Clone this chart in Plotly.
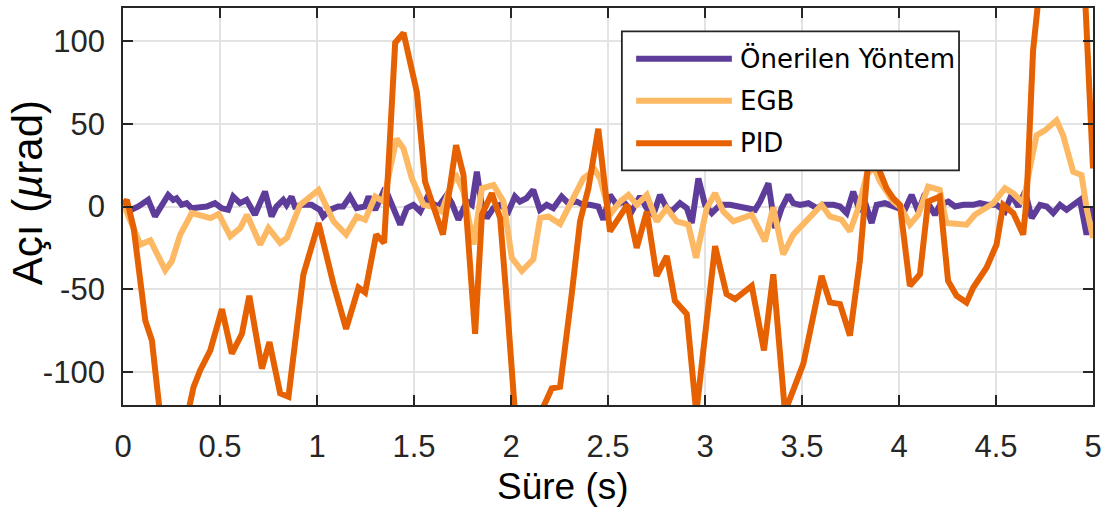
import plotly.graph_objects as go

# ---------------- data ----------------
t_prop = [0.0, 0.044, 0.079, 0.130, 0.165, 0.199, 0.233, 0.259, 0.276, 0.302, 0.328, 0.353, 0.397, 0.431,
          0.474, 0.508, 0.542, 0.568, 0.603, 0.637, 0.680, 0.706, 0.732, 0.766, 0.791, 0.826, 0.843, 0.869,
          0.886, 0.929, 0.972, 1.015, 1.032, 1.066, 1.109, 1.135, 1.170, 1.204, 1.247, 1.266, 1.300, 1.351,
          1.386, 1.429, 1.463, 1.497, 1.532, 1.566, 1.592, 1.626, 1.669, 1.695, 1.729, 1.772, 1.798, 1.824,
          1.849, 1.875, 1.909, 1.944, 1.987, 2.020, 2.046, 2.080, 2.115, 2.149, 2.184, 2.218, 2.261, 2.295,
          2.338, 2.373, 2.407, 2.450, 2.476, 2.510, 2.545, 2.579, 2.622, 2.665, 2.699, 2.734, 2.768, 2.803,
          2.828, 2.871, 2.906, 2.932, 2.966, 3.000, 3.035, 3.078, 3.129, 3.181, 3.224, 3.258, 3.284, 3.327,
          3.361, 3.395, 3.430, 3.455, 3.490, 3.533, 3.576, 3.610, 3.662, 3.696, 3.730, 3.764, 3.798, 3.824,
          3.859, 3.885, 3.927, 3.962, 3.996, 4.030, 4.065, 4.099, 4.125, 4.160, 4.185, 4.211, 4.254, 4.289,
          4.332, 4.383, 4.417, 4.460, 4.503, 4.546, 4.580, 4.615, 4.650, 4.684, 4.727, 4.761, 4.795, 4.830,
          4.864, 4.898, 4.933, 4.967, 5.0]
v_prop = [0, -2, 0, 4, -6, 1, 7, 4, 5, 1, 2, -1, 0, 0,
          2, -1, -2, 6, 2, 4, -5, 2, 9, -6, 0, 4, 1, 6,
          0, 1, 1, -2, -6, -2, 0, 0, 6, -1, 0, 6, -2, 11,
          1, -11, -1, 1, -3, 5, 2, 0, 7, 2, -8, 3, 1, 21,
          1, -7, -1, 1, -3, 6, 3, 5, 10, -2, 1, -1, 6, 2,
          3, 1, 1, 0, -8, 7, 1, 3, -3, 6, -1, -5, 7, -1,
          -3, 2, -1, -10, 17, 1, -4, 1, 1, 0, -1, -2, 3, 14,
          -13, -1, 7, 2, 1, 2, -1, 1, 1, 0, -4, 9, -3, 3,
          -10, 1, 2, 0, -1, -2, 7, -3, 5, 0, -5, 1, 3, 0,
          1, 1, 2, 1, 1, -3, 7, 0, 9, -7, 1, 0, -4, 1,
          -2, 1, 4, -17, 0]

t_egb = [0.0, 0.055, 0.089, 0.141, 0.218, 0.252, 0.295, 0.355, 0.450, 0.493, 0.553, 0.604, 0.639, 0.707,
         0.750, 0.810, 0.845, 0.913, 1.008, 1.085, 1.150, 1.205, 1.248, 1.300, 1.343, 1.377, 1.410, 1.446,
         1.489, 1.549, 1.592, 1.643, 1.712, 1.755, 1.807, 1.850, 1.910, 1.961, 2.004, 2.056, 2.115, 2.150,
         2.193, 2.253, 2.322, 2.373, 2.433, 2.459, 2.510, 2.562, 2.605, 2.648, 2.700, 2.751, 2.803, 2.854,
         2.914, 2.954, 3.009, 3.052, 3.094, 3.146, 3.241, 3.309, 3.352, 3.403, 3.455, 3.524, 3.601, 3.644,
         3.704, 3.747, 3.790, 3.833, 3.870, 3.902, 3.944, 3.970, 4.013, 4.056, 4.099, 4.150, 4.210, 4.244,
         4.348, 4.391, 4.486, 4.546, 4.589, 4.640, 4.674, 4.709, 4.752, 4.812, 4.846, 4.898, 4.941, 4.967,
         5.0]
v_egb = [2, -13, -23, -20.5, -38.5, -33, -17, -4, -7, -4.5, -18, -13, -5, -23,
         -13, -22, -19, 1, 10, -9, -17, -6, -8, 6, 3, 23, 41, 35,
         17, 1, 0, -3, 20, 9, -23, 11, 13, 3, -31, -39, -32, -7,
         -6, -10.5, 5, 17, 22, 17, -5, 3, 7, 1, 7, -9, -1, -9,
         -11, -31, -1, 8, -3, -9, -5, -21, -0.5, -29, -17, -9, 1, -6,
         -8, -15, -1, 19, 24, 15, 7, 3, -1, -11, -5, 12, 10, -10,
         -11, -5, 2, 11, 8, 2, 23, 43, 46, 52, 43, 21, 19, -1,
         -19]

t_pid = [0.0, 0.020, 0.055, 0.115, 0.149, 0.200, 0.260, 0.320, 0.364, 0.398, 0.450, 0.510, 0.561, 0.613,
         0.651, 0.716, 0.755, 0.810, 0.853, 0.930, 1.008, 1.085, 1.150, 1.214, 1.248, 1.305, 1.346, 1.377,
         1.403, 1.446, 1.515, 1.557, 1.600, 1.649, 1.717, 1.755, 1.815, 1.850, 1.901, 1.944, 1.978, 2.030,
         2.090, 2.140, 2.210, 2.253, 2.313, 2.356, 2.399, 2.450, 2.510, 2.545, 2.600, 2.648, 2.700, 2.751,
         2.803, 2.845, 2.906, 2.955, 3.052, 3.111, 3.155, 3.241, 3.304, 3.352, 3.412, 3.455, 3.507, 3.601,
         3.644, 3.696, 3.747, 3.798, 3.841, 3.870, 3.902, 3.936, 3.970, 4.005, 4.056, 4.108, 4.150, 4.210,
         4.253, 4.297, 4.348, 4.383, 4.451, 4.503, 4.537, 4.589, 4.640, 4.657, 4.691, 4.740, 4.850, 4.950,
         5.0]
v_pid = [1, 4, -13, -69, -81, -135, -165, -132, -109, -99, -87, -62, -89, -77,
         -54, -98, -82, -113, -115, -41, -10, -47, -74, -49, -52, -17, -22, 43,
         99, 105, 69, 15, -1, -17, 37, 19, -77, -5, 8, -7, -57, -140,
         -165, -128, -110, -109, -53, -9, 11, 47, -15, -9, 1, -25, -3, -42,
         -30, -57, -65, -125, -24, -53, -56, -48, -87, -41, -124, -111, -95, -42,
         -58, -59, -78, -33, 27, 38, 21, 11, 5, 1, -48, -41, 3, 6,
         -45, -54, -58, -49, -37, -23, 1, -4, -17, 3, 94, 150, 190, 150,
         23]

series_names = ["Önerilen Yöntem", "EGB", "PID"]
series_colors = ["#5e3c99", "#fdb863", "#e66101"]

x_ticks = [0, 0.5, 1, 1.5, 2, 2.5, 3, 3.5, 4, 4.5, 5]
x_ticklabels = ["0", "0.5", "1", "1.5", "2", "2.5", "3", "3.5", "4", "4.5", "5"]
y_ticks = [-100, -50, 0, 50, 100]
y_ticklabels = ["-100", "-50", "0", "50", "100"]

x_title = "Süre (s)"
y_title = "Açı (<i>µ</i>rad)"

# ---------------- figure ----------------
fig = go.Figure()
for tx, vy, name, col in zip([t_prop, t_egb, t_pid], [v_prop, v_egb, v_pid], series_names, series_colors):
    fig.add_trace(go.Scatter(x=tx, y=vy, mode="lines", name=name,
                             line=dict(color=col, width=6), showlegend=False))

SANS = "Liberation Sans, Arial, sans-serif"
axis_common = dict(
    showline=True, linecolor="#262626", linewidth=1.8, mirror="ticks",
    ticks="inside", ticklen=10, tickwidth=1.8, tickcolor="#262626",
    showgrid=True, gridcolor="#e3e3e3", gridwidth=1.5, zeroline=False,
    tickfont=dict(family=SANS, size=31, color="#262626"),
)
fig.update_xaxes(range=[0, 5], tickvals=x_ticks, ticktext=x_ticklabels,
                 ticklabelstandoff=13, **axis_common)
fig.update_yaxes(range=[-120, 120], tickvals=y_ticks, ticktext=y_ticklabels,
                 ticklabelstandoff=10, **axis_common)

# axis titles (positioned as in the reference)
fig.add_annotation(xref="paper", yref="paper", x=0.4531, y=-0.2054, text=x_title, showarrow=False,
                   xanchor="center", yanchor="middle",
                   font=dict(family=SANS, size=37, color="#000000"))
fig.add_annotation(xref="paper", yref="paper", x=-0.099, y=0.536, text=y_title, showarrow=False,
                   textangle=-90, xanchor="center", yanchor="middle",
                   font=dict(family=SANS, size=42, color="#000000"))

# ---------------- manual legend (box, sample lines, labels) ----------------
lx0, lx1, ly0, ly1 = 0.5143, 0.8619, 0.591, 0.941
fig.add_shape(type="rect", xref="paper", yref="paper", x0=lx0, x1=lx1, y0=ly0, y1=ly1,
              line=dict(color="#262626", width=1.8), fillcolor="white", layer="above")
row_y = [0.8723, 0.7663, 0.6594]
for name, col, ry in zip(series_names, series_colors, row_y):
    fig.add_shape(type="line", xref="paper", yref="paper", x0=0.529, x1=0.6277, y0=ry, y1=ry,
                  line=dict(color=col, width=6), layer="above")
    fig.add_annotation(xref="paper", yref="paper", x=0.6345, y=ry, text=name, showarrow=False,
                       xanchor="left", yanchor="middle",
                       font=dict(family="DejaVu Sans, sans-serif", size=26, color="#000000"))

fig.update_layout(
    width=1114, height=513,
    margin=dict(l=123, r=21, t=6, b=108),
    paper_bgcolor="white", plot_bgcolor="white",
)

fig.write_html("out.html")
